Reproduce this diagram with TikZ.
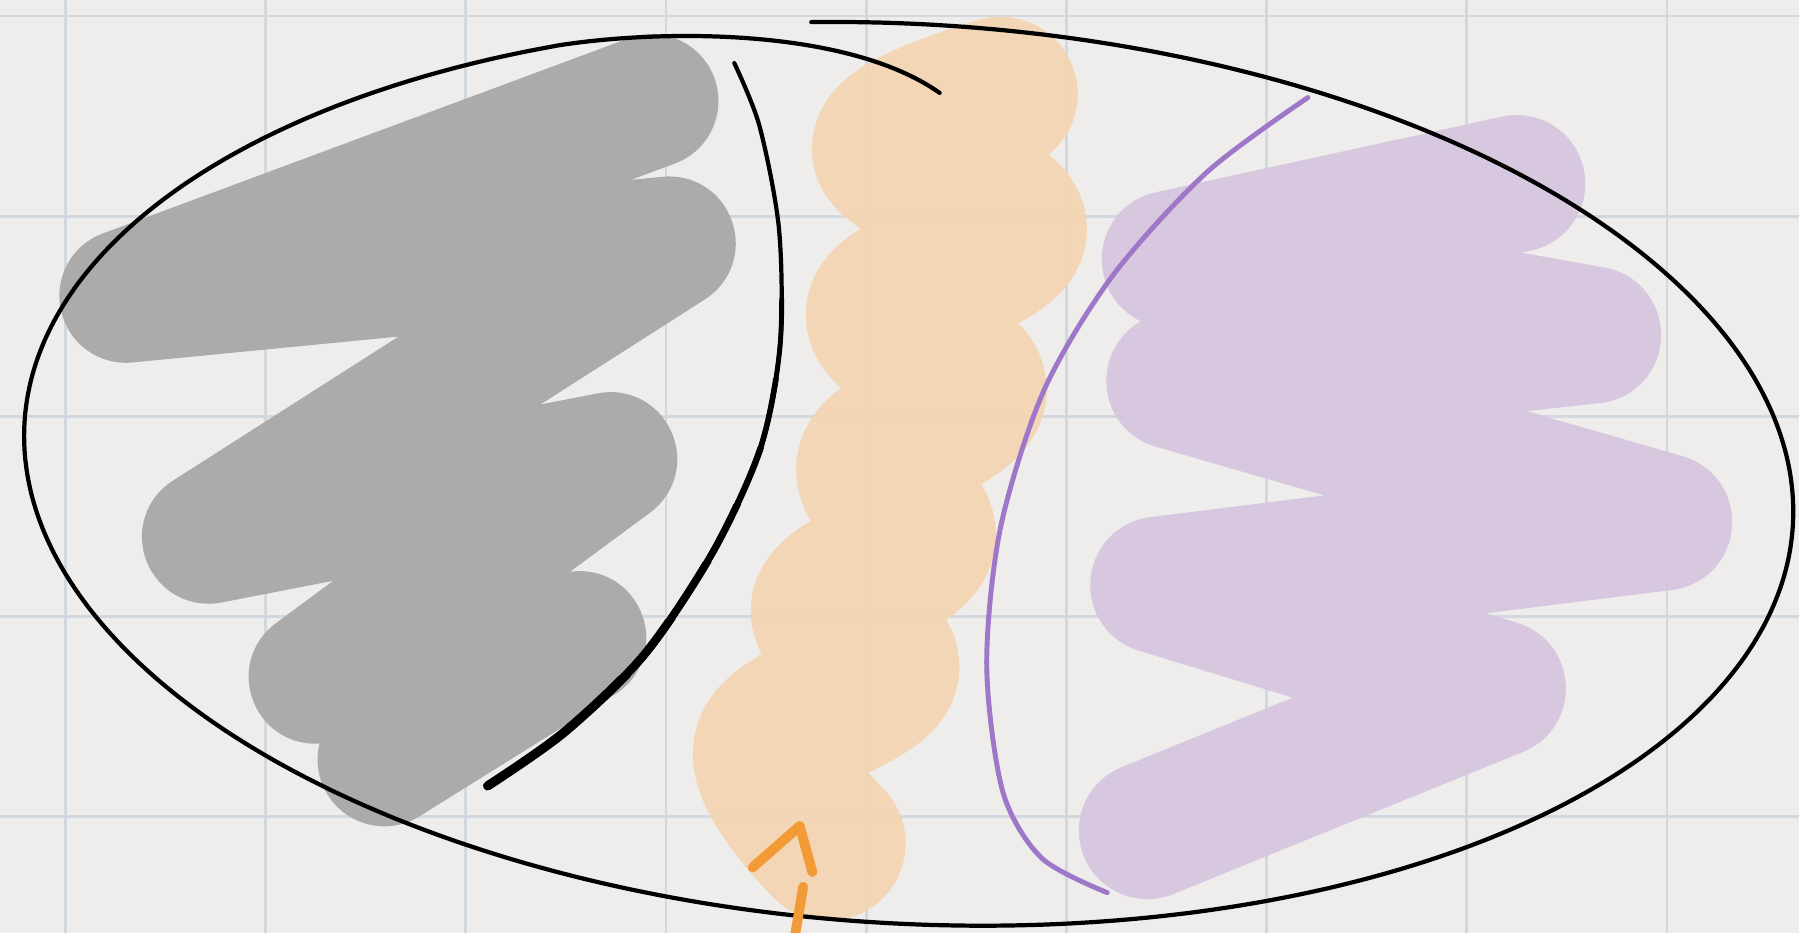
\documentclass[tikz,border=0pt]{standalone}
\usepackage{xcolor}

\definecolor{paper}{HTML}{EEEDEB}
\definecolor{gridblue}{HTML}{D2D8E0}
\definecolor{greyink}{HTML}{A7A7A5}
\definecolor{peach}{HTML}{F3D5B3}
\definecolor{lilac}{HTML}{D7C6DF}
\definecolor{violetline}{HTML}{9E77C9}
\definecolor{orangeline}{HTML}{F29A36}

\begin{document}
\begin{tikzpicture}[x=0.011473cm, y=-0.011473cm,
  scribble/.style={line cap=round, line join=round, opacity=0.93},
  pen/.style={line cap=round, line join=round}]
  % paper and grid
  \fill[paper] (0,0) rectangle (1568,813);
  \useasboundingbox (0,0) rectangle (1568,813);
  \foreach \gx in {57,231.5,406,580.5,755,929.5,1104,1278.5,1453}
    \draw[gridblue, line width=0.8pt] (\gx,0) -- (\gx,813);
  \foreach \gy in {14,188.5,363,537.5,712}
    \draw[gridblue, line width=0.8pt] (0,\gy) -- (1568,\gy);

  % grey scribble
  \draw[scribble, greyink, line width=38pt] (568,88) -- (110,258) -- (583,212)
    -- (182,468) -- (532,400) -- (275,590) -- (505,556) -- (335,662);

  % peach scribble
  \draw[scribble, peach, line width=44pt] plot[smooth, tension=0.6] coordinates {
    (872,82) (775,130) (880,200) (770,272) (845,340) (762,405) (800,470)
    (722,530) (768,585) (672,652) (722,735)};

  % lilac scribble
  \draw[scribble, lilac, line width=39pt] (1322,160) -- (1020,226) -- (1388,292)
    -- (1024,332) -- (1450,455) -- (1010,510) -- (1305,600) -- (1000,724);

  % outer loop, open at the top, with the inner hook
  \draw[pen, black, line width=1.2pt]
    plot[domain=-98:245, samples=140, smooth]
      ({792 + 772*cos(\x)*0.9983 - 392*sin(\x)*0.0576},
       {413 + 772*cos(\x)*0.0576 + 392*sin(\x)*0.9983})
    .. controls (580,25) and (740,25) .. (819,81);

  % black divider, thicker towards the bottom
  \def\divider{plot[smooth] coordinates {(640,55) (662,110) (679,200) (680,300)
    (663,390) (622,480) (562,570) (492,638) (425,685)}}
  \draw[pen, black, line width=1.2pt] \divider;
  \foreach \cy/\lw in {260/1.4, 330/1.6, 390/1.8, 440/2.0, 490/2.2, 540/2.4, 590/2.6}{
    \begin{scope}
      \clip (380,\cy) rectangle (750,720);
      \draw[pen, black, line width=\lw pt] \divider;
    \end{scope}
  }

  % violet divider
  \draw[pen, violetline, line width=1.4pt] plot[smooth] coordinates {
    (1140,85) (1052,150) (970,240) (910,340) (872,460) (860,580) (874,690)
    (908,748) (965,778)};

  % orange arrow
  \draw[pen, orangeline, line width=2.8pt] (656,756) -- (697,720) -- (708,760);
  \draw[pen, orangeline, line width=2.8pt] (700,773) -- (693,815);
\end{tikzpicture}
\end{document}
